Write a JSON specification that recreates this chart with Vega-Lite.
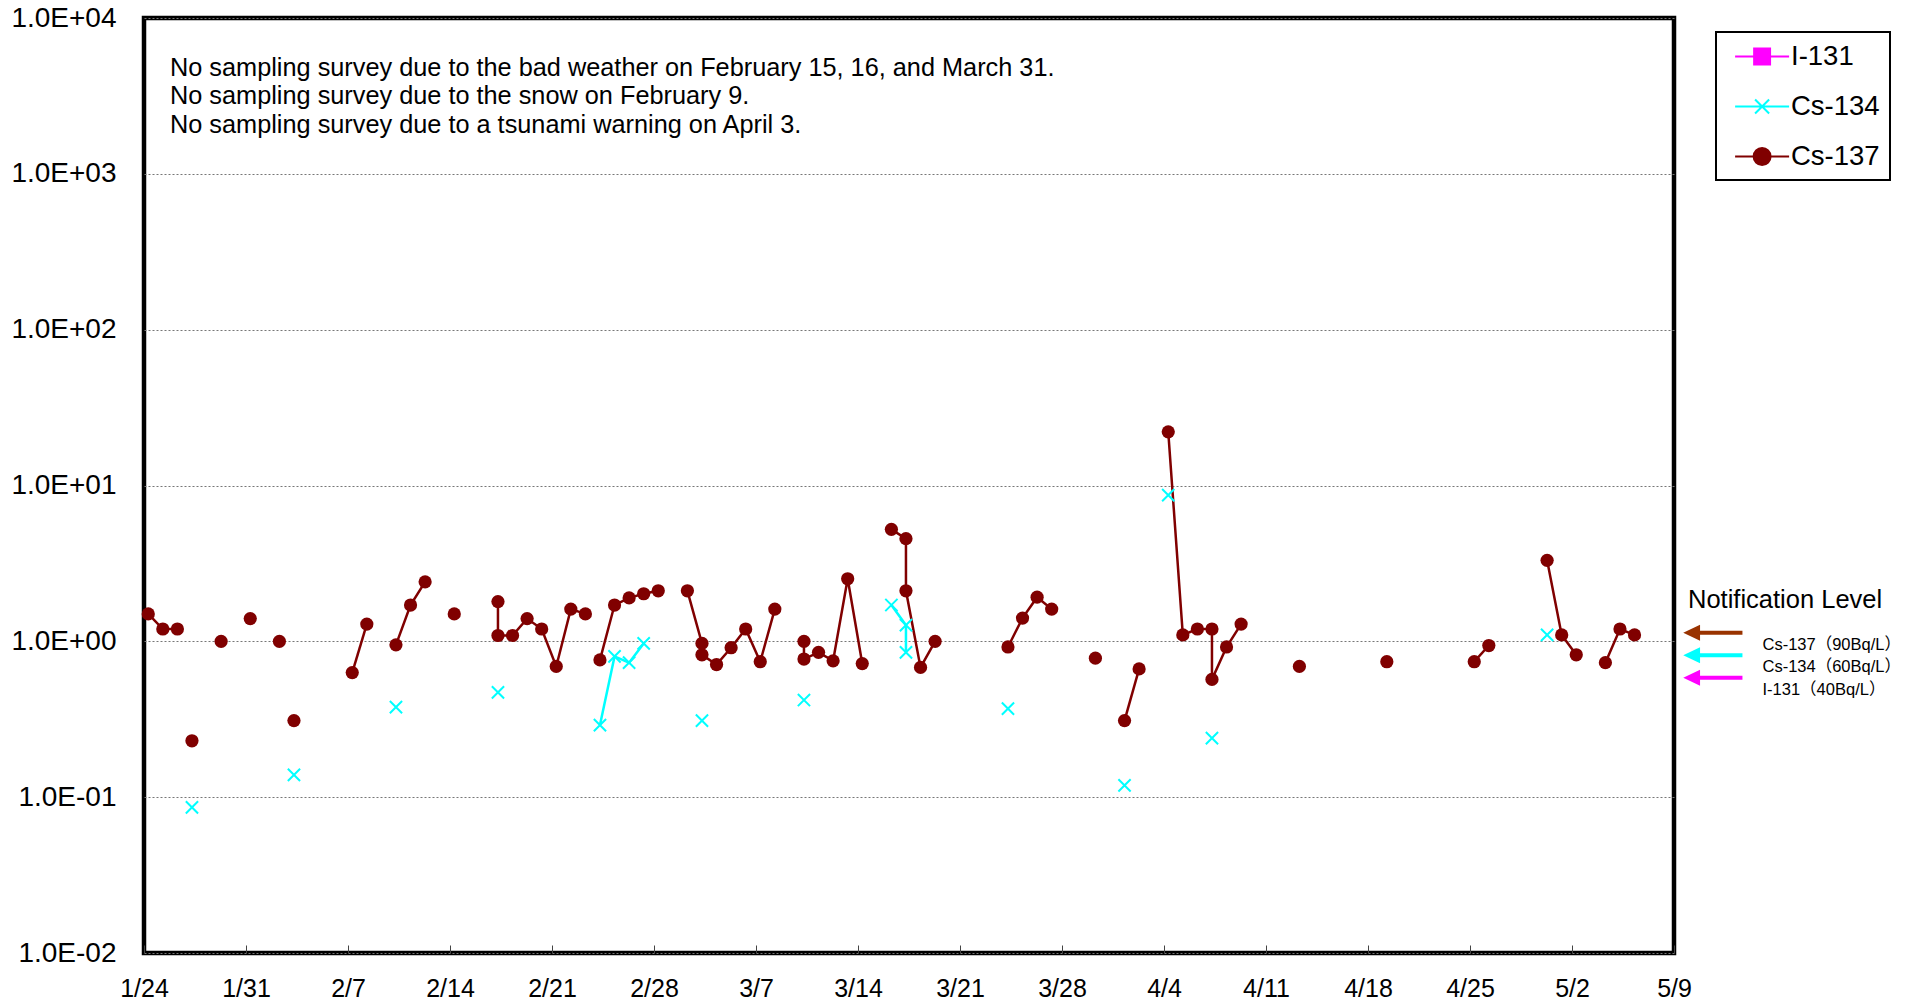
{
  "$schema": "https://vega.github.io/schema/vega-lite/v6.json",
  "width": 1530,
  "height": 935,
  "autosize": "none",
  "padding": {"left": 144, "top": 18, "right": 242, "bottom": 55},
  "background": "white",
  "title": {
    "text": ["No sampling survey due to the bad weather on February 15, 16, and March 31.", "No sampling survey due to the snow on February 9.", "No sampling survey due to a tsunami warning on April 3."],
    "anchor": "start", "frame": "group", "orient": "top",
    "font": "Liberation Sans", "fontSize": 25.3, "fontWeight": "normal", "color": "black",
    "lineHeight": 28.7, "baseline": "top", "offset": 0, "dx": 26, "dy": 134.5
  },
  "datasets": {
    "samples": [
      {"date": "2014-01-24T07:00:00Z", "nuclide": "Cs-137", "value": 1.50, "run": "137a"},
      {"date": "2014-01-25T07:00:00Z", "nuclide": "Cs-137", "value": 1.20, "run": "137a"},
      {"date": "2014-01-26T07:00:00Z", "nuclide": "Cs-137", "value": 1.20, "run": "137a"},
      {"date": "2014-01-27T07:00:00Z", "nuclide": "Cs-137", "value": 0.23, "run": "137b"},
      {"date": "2014-01-29T07:00:00Z", "nuclide": "Cs-137", "value": 1.00, "run": "137c"},
      {"date": "2014-01-31T07:00:00Z", "nuclide": "Cs-137", "value": 1.40, "run": "137d"},
      {"date": "2014-02-02T07:00:00Z", "nuclide": "Cs-137", "value": 1.00, "run": "137e"},
      {"date": "2014-02-03T07:00:00Z", "nuclide": "Cs-137", "value": 0.31, "run": "137f"},
      {"date": "2014-02-07T07:00:00Z", "nuclide": "Cs-137", "value": 0.63, "run": "137g"},
      {"date": "2014-02-08T07:00:00Z", "nuclide": "Cs-137", "value": 1.29, "run": "137g"},
      {"date": "2014-02-10T07:00:00Z", "nuclide": "Cs-137", "value": 0.95, "run": "137h"},
      {"date": "2014-02-11T07:00:00Z", "nuclide": "Cs-137", "value": 1.71, "run": "137h"},
      {"date": "2014-02-12T07:00:00Z", "nuclide": "Cs-137", "value": 2.41, "run": "137h"},
      {"date": "2014-02-14T07:00:00Z", "nuclide": "Cs-137", "value": 1.50, "run": "137i"},
      {"date": "2014-02-17T07:00:00Z", "nuclide": "Cs-137", "value": 1.80, "run": "137j"},
      {"date": "2014-02-17T07:00:00Z", "nuclide": "Cs-137", "value": 1.09, "run": "137j"},
      {"date": "2014-02-18T07:00:00Z", "nuclide": "Cs-137", "value": 1.09, "run": "137j"},
      {"date": "2014-02-19T07:00:00Z", "nuclide": "Cs-137", "value": 1.40, "run": "137j"},
      {"date": "2014-02-20T07:00:00Z", "nuclide": "Cs-137", "value": 1.20, "run": "137j"},
      {"date": "2014-02-21T07:00:00Z", "nuclide": "Cs-137", "value": 0.69, "run": "137j"},
      {"date": "2014-02-22T07:00:00Z", "nuclide": "Cs-137", "value": 1.61, "run": "137j"},
      {"date": "2014-02-23T07:00:00Z", "nuclide": "Cs-137", "value": 1.50, "run": "137j"},
      {"date": "2014-02-24T07:00:00Z", "nuclide": "Cs-137", "value": 0.76, "run": "137k"},
      {"date": "2014-02-25T07:00:00Z", "nuclide": "Cs-137", "value": 1.71, "run": "137k"},
      {"date": "2014-02-26T07:00:00Z", "nuclide": "Cs-137", "value": 1.90, "run": "137k"},
      {"date": "2014-02-27T07:00:00Z", "nuclide": "Cs-137", "value": 2.02, "run": "137k"},
      {"date": "2014-02-28T07:00:00Z", "nuclide": "Cs-137", "value": 2.11, "run": "137k"},
      {"date": "2014-03-02T07:00:00Z", "nuclide": "Cs-137", "value": 2.11, "run": "137l"},
      {"date": "2014-03-03T07:00:00Z", "nuclide": "Cs-137", "value": 0.97, "run": "137l"},
      {"date": "2014-03-03T07:00:00Z", "nuclide": "Cs-137", "value": 0.82, "run": "137l"},
      {"date": "2014-03-04T07:00:00Z", "nuclide": "Cs-137", "value": 0.71, "run": "137l"},
      {"date": "2014-03-05T07:00:00Z", "nuclide": "Cs-137", "value": 0.91, "run": "137l"},
      {"date": "2014-03-06T07:00:00Z", "nuclide": "Cs-137", "value": 1.20, "run": "137l"},
      {"date": "2014-03-07T07:00:00Z", "nuclide": "Cs-137", "value": 0.74, "run": "137l"},
      {"date": "2014-03-08T07:00:00Z", "nuclide": "Cs-137", "value": 1.61, "run": "137l"},
      {"date": "2014-03-10T07:00:00Z", "nuclide": "Cs-137", "value": 1.00, "run": "137m"},
      {"date": "2014-03-10T07:00:00Z", "nuclide": "Cs-137", "value": 0.77, "run": "137m"},
      {"date": "2014-03-11T07:00:00Z", "nuclide": "Cs-137", "value": 0.85, "run": "137m"},
      {"date": "2014-03-12T07:00:00Z", "nuclide": "Cs-137", "value": 0.75, "run": "137m"},
      {"date": "2014-03-13T07:00:00Z", "nuclide": "Cs-137", "value": 2.52, "run": "137m"},
      {"date": "2014-03-14T07:00:00Z", "nuclide": "Cs-137", "value": 0.72, "run": "137m"},
      {"date": "2014-03-16T07:00:00Z", "nuclide": "Cs-137", "value": 5.23, "run": "137n"},
      {"date": "2014-03-17T07:00:00Z", "nuclide": "Cs-137", "value": 4.56, "run": "137n"},
      {"date": "2014-03-17T07:00:00Z", "nuclide": "Cs-137", "value": 2.11, "run": "137n"},
      {"date": "2014-03-18T07:00:00Z", "nuclide": "Cs-137", "value": 0.68, "run": "137n"},
      {"date": "2014-03-19T07:00:00Z", "nuclide": "Cs-137", "value": 1.00, "run": "137n"},
      {"date": "2014-03-24T07:00:00Z", "nuclide": "Cs-137", "value": 0.92, "run": "137o"},
      {"date": "2014-03-25T07:00:00Z", "nuclide": "Cs-137", "value": 1.41, "run": "137o"},
      {"date": "2014-03-26T07:00:00Z", "nuclide": "Cs-137", "value": 1.92, "run": "137o"},
      {"date": "2014-03-27T07:00:00Z", "nuclide": "Cs-137", "value": 1.61, "run": "137o"},
      {"date": "2014-03-30T07:00:00Z", "nuclide": "Cs-137", "value": 0.78, "run": "137p"},
      {"date": "2014-04-01T07:00:00Z", "nuclide": "Cs-137", "value": 0.31, "run": "137q"},
      {"date": "2014-04-02T07:00:00Z", "nuclide": "Cs-137", "value": 0.665, "run": "137q"},
      {"date": "2014-04-04T07:00:00Z", "nuclide": "Cs-137", "value": 22.1, "run": "137r"},
      {"date": "2014-04-05T07:00:00Z", "nuclide": "Cs-137", "value": 1.10, "run": "137r"},
      {"date": "2014-04-06T07:00:00Z", "nuclide": "Cs-137", "value": 1.20, "run": "137r"},
      {"date": "2014-04-07T07:00:00Z", "nuclide": "Cs-137", "value": 1.20, "run": "137r"},
      {"date": "2014-04-07T07:00:00Z", "nuclide": "Cs-137", "value": 0.57, "run": "137r"},
      {"date": "2014-04-08T07:00:00Z", "nuclide": "Cs-137", "value": 0.92, "run": "137r"},
      {"date": "2014-04-09T07:00:00Z", "nuclide": "Cs-137", "value": 1.29, "run": "137r"},
      {"date": "2014-04-13T07:00:00Z", "nuclide": "Cs-137", "value": 0.69, "run": "137s"},
      {"date": "2014-04-19T07:00:00Z", "nuclide": "Cs-137", "value": 0.74, "run": "137t"},
      {"date": "2014-04-25T07:00:00Z", "nuclide": "Cs-137", "value": 0.74, "run": "137u"},
      {"date": "2014-04-26T07:00:00Z", "nuclide": "Cs-137", "value": 0.94, "run": "137u"},
      {"date": "2014-04-30T07:00:00Z", "nuclide": "Cs-137", "value": 3.31, "run": "137v"},
      {"date": "2014-05-01T07:00:00Z", "nuclide": "Cs-137", "value": 1.10, "run": "137v"},
      {"date": "2014-05-02T07:00:00Z", "nuclide": "Cs-137", "value": 0.82, "run": "137v"},
      {"date": "2014-05-04T07:00:00Z", "nuclide": "Cs-137", "value": 0.73, "run": "137w"},
      {"date": "2014-05-05T07:00:00Z", "nuclide": "Cs-137", "value": 1.20, "run": "137w"},
      {"date": "2014-05-06T07:00:00Z", "nuclide": "Cs-137", "value": 1.10, "run": "137w"},
      {"date": "2014-01-27T07:00:00Z", "nuclide": "Cs-134", "value": 0.086, "run": "134a"},
      {"date": "2014-02-03T07:00:00Z", "nuclide": "Cs-134", "value": 0.139, "run": "134b"},
      {"date": "2014-02-10T07:00:00Z", "nuclide": "Cs-134", "value": 0.378, "run": "134c"},
      {"date": "2014-02-17T07:00:00Z", "nuclide": "Cs-134", "value": 0.47, "run": "134d"},
      {"date": "2014-02-24T07:00:00Z", "nuclide": "Cs-134", "value": 0.29, "run": "134e"},
      {"date": "2014-02-25T07:00:00Z", "nuclide": "Cs-134", "value": 0.80, "run": "134e"},
      {"date": "2014-02-26T07:00:00Z", "nuclide": "Cs-134", "value": 0.73, "run": "134e"},
      {"date": "2014-02-27T07:00:00Z", "nuclide": "Cs-134", "value": 0.97, "run": "134e"},
      {"date": "2014-03-03T07:00:00Z", "nuclide": "Cs-134", "value": 0.31, "run": "134f"},
      {"date": "2014-03-10T07:00:00Z", "nuclide": "Cs-134", "value": 0.42, "run": "134g"},
      {"date": "2014-03-16T07:00:00Z", "nuclide": "Cs-134", "value": 1.71, "run": "134h"},
      {"date": "2014-03-17T07:00:00Z", "nuclide": "Cs-134", "value": 1.27, "run": "134h"},
      {"date": "2014-03-17T07:00:00Z", "nuclide": "Cs-134", "value": 0.85, "run": "134h"},
      {"date": "2014-03-24T07:00:00Z", "nuclide": "Cs-134", "value": 0.37, "run": "134i"},
      {"date": "2014-04-01T07:00:00Z", "nuclide": "Cs-134", "value": 0.119, "run": "134j"},
      {"date": "2014-04-04T07:00:00Z", "nuclide": "Cs-134", "value": 8.67, "run": "134k"},
      {"date": "2014-04-07T07:00:00Z", "nuclide": "Cs-134", "value": 0.239, "run": "134l"},
      {"date": "2014-04-30T07:00:00Z", "nuclide": "Cs-134", "value": 1.10, "run": "134m"}
    ],
    "levels": [
      {"level": "Cs-137（90Bq/L）", "limit": 90},
      {"level": "Cs-134（60Bq/L）", "limit": 60},
      {"level": "I-131（40Bq/L）", "limit": 40}
    ]
  },
  "data": {"name": "samples"},
  "encoding": {
    "x": {
      "field": "date", "type": "temporal",
      "scale": {"type": "utc", "domain": [1390521600000, 1399593600000], "nice": false},
      "axis": {
        "title": null, "grid": false, "domain": false,
        "values": [1390521600000, 1391126400000, 1391731200000, 1392336000000, 1392940800000, 1393545600000, 1394150400000, 1394755200000, 1395360000000, 1395964800000, 1396569600000, 1397174400000, 1397779200000, 1398384000000, 1398988800000, 1399593600000],
        "labelExpr": "utcFormat(datum.value, '%-m/%-d')",
        "labelFont": "Liberation Sans", "labelFontSize": 25, "labelColor": "black",
        "labelOverlap": false, "labelFlush": false, "labelBound": false,
        "ticks": true, "tickSize": -8, "tickColor": "#444444", "tickWidth": 1,
        "labelPadding": 31
      }
    },
    "y": {
      "field": "value", "type": "quantitative",
      "scale": {"type": "log", "domain": [0.01, 10000], "nice": false},
      "axis": {
        "title": null, "domain": false, "ticks": false,
        "values": [0.01, 0.1, 1, 10, 100, 1000, 10000],
        "labelExpr": "'1.0E' + (datum.value < 1 ? '-' : '+') + '0' + format(abs(round(log(datum.value) / LN10)), 'd')",
        "labelFont": "Liberation Sans", "labelFontSize": 28, "labelColor": "black",
        "labelPadding": 28,
        "grid": true, "gridColor": "#777777", "gridDash": [2, 2], "gridWidth": 1
      }
    }
  },
  "layer": [
    {
      "mark": {"type": "line", "strokeWidth": 2.5},
      "encoding": {
        "color": {
          "field": "nuclide", "type": "nominal",
          "scale": {"domain": ["I-131", "Cs-134", "Cs-137"], "range": ["#ff00ff", "#00ffff", "#800000"]},
          "legend": {
            "title": null, "orient": "none", "legendX": 1572, "legendY": 14,
            "padding": 10, "rowPadding": 22, "labelOffset": 36,
            "strokeColor": "black", "fillColor": "white",
            "labelFont": "Liberation Sans", "labelFontSize": 27.5, "labelColor": "black",
            "symbolSize": 729,
            "encode": {
              "legend": {"update": {"strokeWidth": {"value": 2}}},
              "symbols": {"update": {
                "shape": {"signal": "datum.value === 'I-131' ? 'M-0.4,0H3.6M1.01,-0.59H2.19V0.59H1.01Z' : datum.value === 'Cs-134' ? 'M-0.4,0H3.6M1.08,-0.52L2.12,0.52M1.08,0.52L2.12,-0.52' : 'M-0.4,0H3.6M0.97,0A0.63,0.63 0 1 0 2.23,0A0.63,0.63 0 1 0 0.97,0Z'"},
                "fill": {"signal": "datum.value === 'I-131' ? '#ff00ff' : datum.value === 'Cs-134' ? '#00ffff' : '#800000'"},
                "stroke": {"signal": "datum.value === 'I-131' ? '#ff00ff' : datum.value === 'Cs-134' ? '#00ffff' : '#800000'"},
                "strokeWidth": {"value": 2},
                "size": {"value": 729},
                "opacity": {"value": 1},
                "fillOpacity": {"value": 1},
                "strokeOpacity": {"value": 1}
              }}
            }
          }
        },
        "detail": {"field": "run", "type": "nominal"}
      }
    },
    {
      "transform": [{"filter": "datum.nuclide === 'Cs-137'"}],
      "mark": {"type": "point", "shape": "circle", "filled": true, "size": 175, "opacity": 1},
      "encoding": {
        "color": {"field": "nuclide", "type": "nominal", "legend": null}
      }
    },
    {
      "transform": [{"filter": "datum.nuclide === 'Cs-134'"}],
      "mark": {"type": "point", "shape": "M-1,-1L1,1M-1,1L1,-1", "filled": false, "size": 150, "strokeWidth": 2, "opacity": 1},
      "encoding": {
        "color": {"field": "nuclide", "type": "nominal", "legend": null}
      }
    },
    {
      "data": {"name": "levels"},
      "mark": {"type": "point", "filled": true, "opacity": 0},
      "encoding": {
        "x": {"value": 0},
        "y": {"value": 0},
        "fill": {
          "field": "level", "type": "nominal",
          "scale": {"domain": ["Cs-137（90Bq/L）", "Cs-134（60Bq/L）", "I-131（40Bq/L）"], "range": ["#993300", "#00ffff", "#ff00ff"]},
          "legend": {
            "title": "Notification Level", "orient": "none", "legendX": 1539, "legendY": 570,
            "padding": 0, "titleFont": "Liberation Sans", "titleFontSize": 25.5, "titleFontWeight": "normal", "titleColor": "black",
            "titlePadding": 23, "titleLimit": 400,
            "labelFont": "Liberation Sans, Noto Sans CJK JP", "labelFontSize": 16.5, "labelColor": "black", "labelLimit": 300,
            "labelOffset": 63, "rowPadding": -6.5,
            "symbolType": "M-1,-1.5L1.1,-2.5L1.1,-0.5ZM1.1,-1.75H6.4V-1.25H1.1Z",
            "symbolSize": 256, "symbolStrokeWidth": 0, "symbolOpacity": 1,
            "encode": {"title": {"update": {"dx": {"value": 5}}}}
          }
        }
      }
    }
  ],
  "config": {
    "font": "Liberation Sans",
    "view": {"stroke": "black", "strokeWidth": 4.5}
  }
}
